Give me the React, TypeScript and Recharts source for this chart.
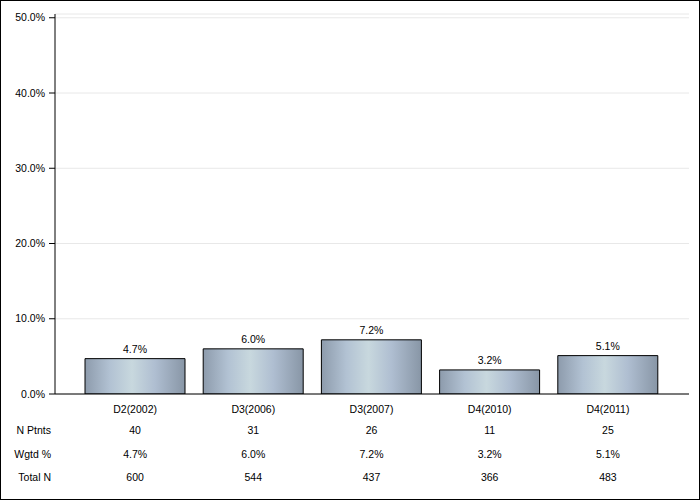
import React from 'react';
import { BarChart, Bar, XAxis, YAxis, CartesianGrid, LabelList } from 'recharts';

const categories = ['D2(2002)', 'D3(2006)', 'D3(2007)', 'D4(2010)', 'D4(2011)'];
const wgtdPct = [4.7, 6.0, 7.2, 3.2, 5.1];
const nPtnts = [40, 31, 26, 11, 25];
const totalN = [600, 544, 437, 366, 483];
const yTicks = [0, 10, 20, 30, 40, 50];
const rowLabels = ['N Ptnts', 'Wgtd %', 'Total N'];

const data = categories.map((c, i) => ({
  name: c,
  value: wgtdPct[i],
  n: nPtnts[i],
  total: totalN[i],
}));

const FONT = 'Arial, "Liberation Sans", sans-serif';
const FS = 10.5;

const TableTick = (props: any) => {
  const { x, y, payload, index } = props;
  const i = payload.index ?? index;
  const rowsY = [y + 28, y + 52, y + 75];
  const vals = [String(nPtnts[i]), wgtdPct[i].toFixed(1) + '%', String(totalN[i])];
  return (
    <g>
      <text x={x} y={y + 7} textAnchor="middle" dominantBaseline="central" fontSize={FS} fontFamily={FONT} fill="#000">
        {payload.value}
      </text>
      {vals.map((v, k) => (
        <text key={k} x={x} y={rowsY[k]} textAnchor="middle" dominantBaseline="central" fontSize={FS} fontFamily={FONT} fill="#000">
          {v}
        </text>
      ))}
      {i === 0 &&
        rowLabels.map((l, k) => (
          <text key={'l' + k} x={51} y={rowsY[k]} textAnchor="end" dominantBaseline="central" fontSize={FS} fontFamily={FONT} fill="#000">
            {l}
          </text>
        ))}
    </g>
  );
};

export default function App() {
  return (
    <div style={{ position: 'absolute', left: 0, top: 0, width: 700, height: 500, background: '#fff' }}>
      <BarChart
        width={700}
        height={500}
        data={data}
        margin={{ top: 14, right: 11, bottom: 0, left: 0 }}
      >
        <defs>
          <linearGradient id="barGrad" x1="0" y1="0" x2="1" y2="0">
            <stop offset="0%" stopColor="#8d9bac" />
            <stop offset="25%" stopColor="#b2c2d3" />
            <stop offset="47%" stopColor="#c8d8de" />
            <stop offset="70%" stopColor="#afbed1" />
            <stop offset="100%" stopColor="#8896a6" />
          </linearGradient>
        </defs>
        <CartesianGrid vertical={false} stroke="#e8e8e8" />
        <XAxis
          dataKey="name"
          padding={{ left: 21, right: 22 }}
          axisLine={{ stroke: '#000', strokeWidth: 1 }}
          tickLine={false}
          tick={<TableTick />}
          interval={0}
          height={106}
        />
        <XAxis
          xAxisId="top"
          orientation="top"
          dataKey="name"
          height={0}
          tick={false}
          tickLine={false}
          axisLine={{ stroke: '#000', strokeWidth: 1 }}
        />
        <YAxis
          domain={[0, 50.5]}
          ticks={yTicks}
          width={55}
          tickSize={6}
          tickMargin={4}
          axisLine={{ stroke: '#000' }}
          tickLine={{ stroke: '#000' }}
          tickFormatter={(v: number) => v.toFixed(1) + '%'}
          tick={{ fontSize: FS, fontFamily: FONT, fill: '#000' }}
          allowDataOverflow
        />
        <YAxis
          yAxisId="right"
          orientation="right"
          width={0}
          tick={false}
          tickLine={false}
          domain={[0, 50.5]}
          axisLine={{ stroke: '#000' }}
        />
        <Bar dataKey="value" barSize={100} fill="url(#barGrad)" stroke="#000" strokeWidth={1} isAnimationActive={false}>
          <LabelList
            dataKey="value"
            position="top"
            offset={6}
            formatter={(v: number) => v.toFixed(1) + '%'}
            style={{ fontSize: FS, fontFamily: FONT, fill: '#000' }}
          />
        </Bar>
      </BarChart>
      <div style={{ position: 'absolute', left: 0, top: 0, width: 700, height: 500, border: '1px solid #000', boxSizing: 'border-box', pointerEvents: 'none' }} />
    </div>
  );
}
